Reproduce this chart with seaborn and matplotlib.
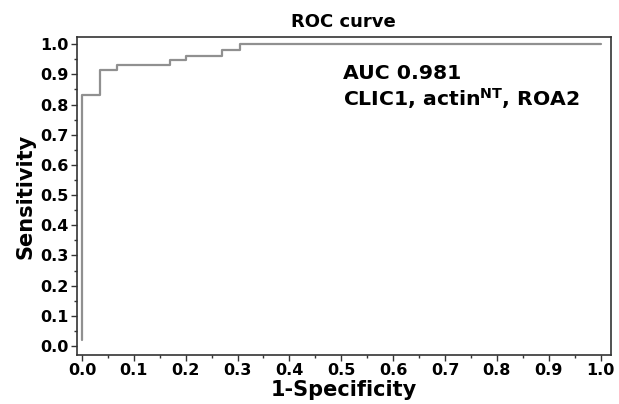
import matplotlib
matplotlib.use("Agg")
import matplotlib.pyplot as plt
import seaborn as sns
import numpy as np
from matplotlib.ticker import MultipleLocator

# ROC points (step curve)
fpr = [0.0, 0.0, 0.035, 0.035, 0.067, 0.067, 0.17, 0.17, 0.20, 0.20, 0.27, 0.27, 0.305, 0.305, 1.0]
tpr = [0.02, 0.83, 0.83, 0.915, 0.915, 0.93, 0.93, 0.946, 0.946, 0.962, 0.962, 0.98, 0.98, 1.0, 1.0]
ticks = [0.0, 0.1, 0.2, 0.3, 0.4, 0.5, 0.6, 0.7, 0.8, 0.9, 1.0]
auc_label = "AUC 0.981"
marker_label = r"CLIC1, actin$^{\mathbf{NT}}$, ROA2"

sns.set_style("ticks")
plt.rcParams["font.family"] = ["DejaVu Sans"]
plt.rcParams["font.weight"] = "bold"
plt.rcParams["mathtext.fontset"] = "dejavusans"
plt.rcParams["text.color"] = "black"
plt.rcParams["axes.labelcolor"] = "black"
plt.rcParams["xtick.color"] = "black"
plt.rcParams["ytick.color"] = "black"

fig = plt.figure(figsize=(6.19, 4.04), dpi=100)
ax = fig.add_axes([0.124, 0.121, 0.863, 0.787])

sns.lineplot(x=fpr, y=tpr, sort=False, estimator=None, color="#909090", linewidth=1.6, ax=ax)

ax.set_xlim(-0.01, 1.02)
ax.set_ylim(-0.03, 1.023)
ax.set_xticks(ticks)
ax.set_yticks(ticks)
ax.xaxis.set_minor_locator(MultipleLocator(0.05))
ax.yaxis.set_minor_locator(MultipleLocator(0.05))
ax.set_xticklabels([f"{v:.1f}" for v in ticks], fontweight="bold", fontsize=11.5)
ax.set_yticklabels([f"{v:.1f}" for v in ticks], fontweight="bold", fontsize=11.5)
ax.tick_params(which="major", length=4, width=1, color="#333333", pad=2)
ax.tick_params(which="minor", length=2.5, width=1, color="#333333")
for s in ax.spines.values():
    s.set_color("#333333")
    s.set_linewidth(1.2)

ax.set_title("ROC curve", fontsize=13, fontweight="bold", pad=7, color="black")
ax.set_xlabel("1-Specificity", fontsize=15, fontweight="bold", labelpad=1)
ax.set_ylabel("Sensitivity", fontsize=15, fontweight="bold", labelpad=3)

ax.text(0.503, 0.935, auc_label + "\n" + marker_label, fontsize=14.7, fontweight="bold",
        ha="left", va="top", linespacing=1.15)

fig.savefig("out.png", dpi=100)
